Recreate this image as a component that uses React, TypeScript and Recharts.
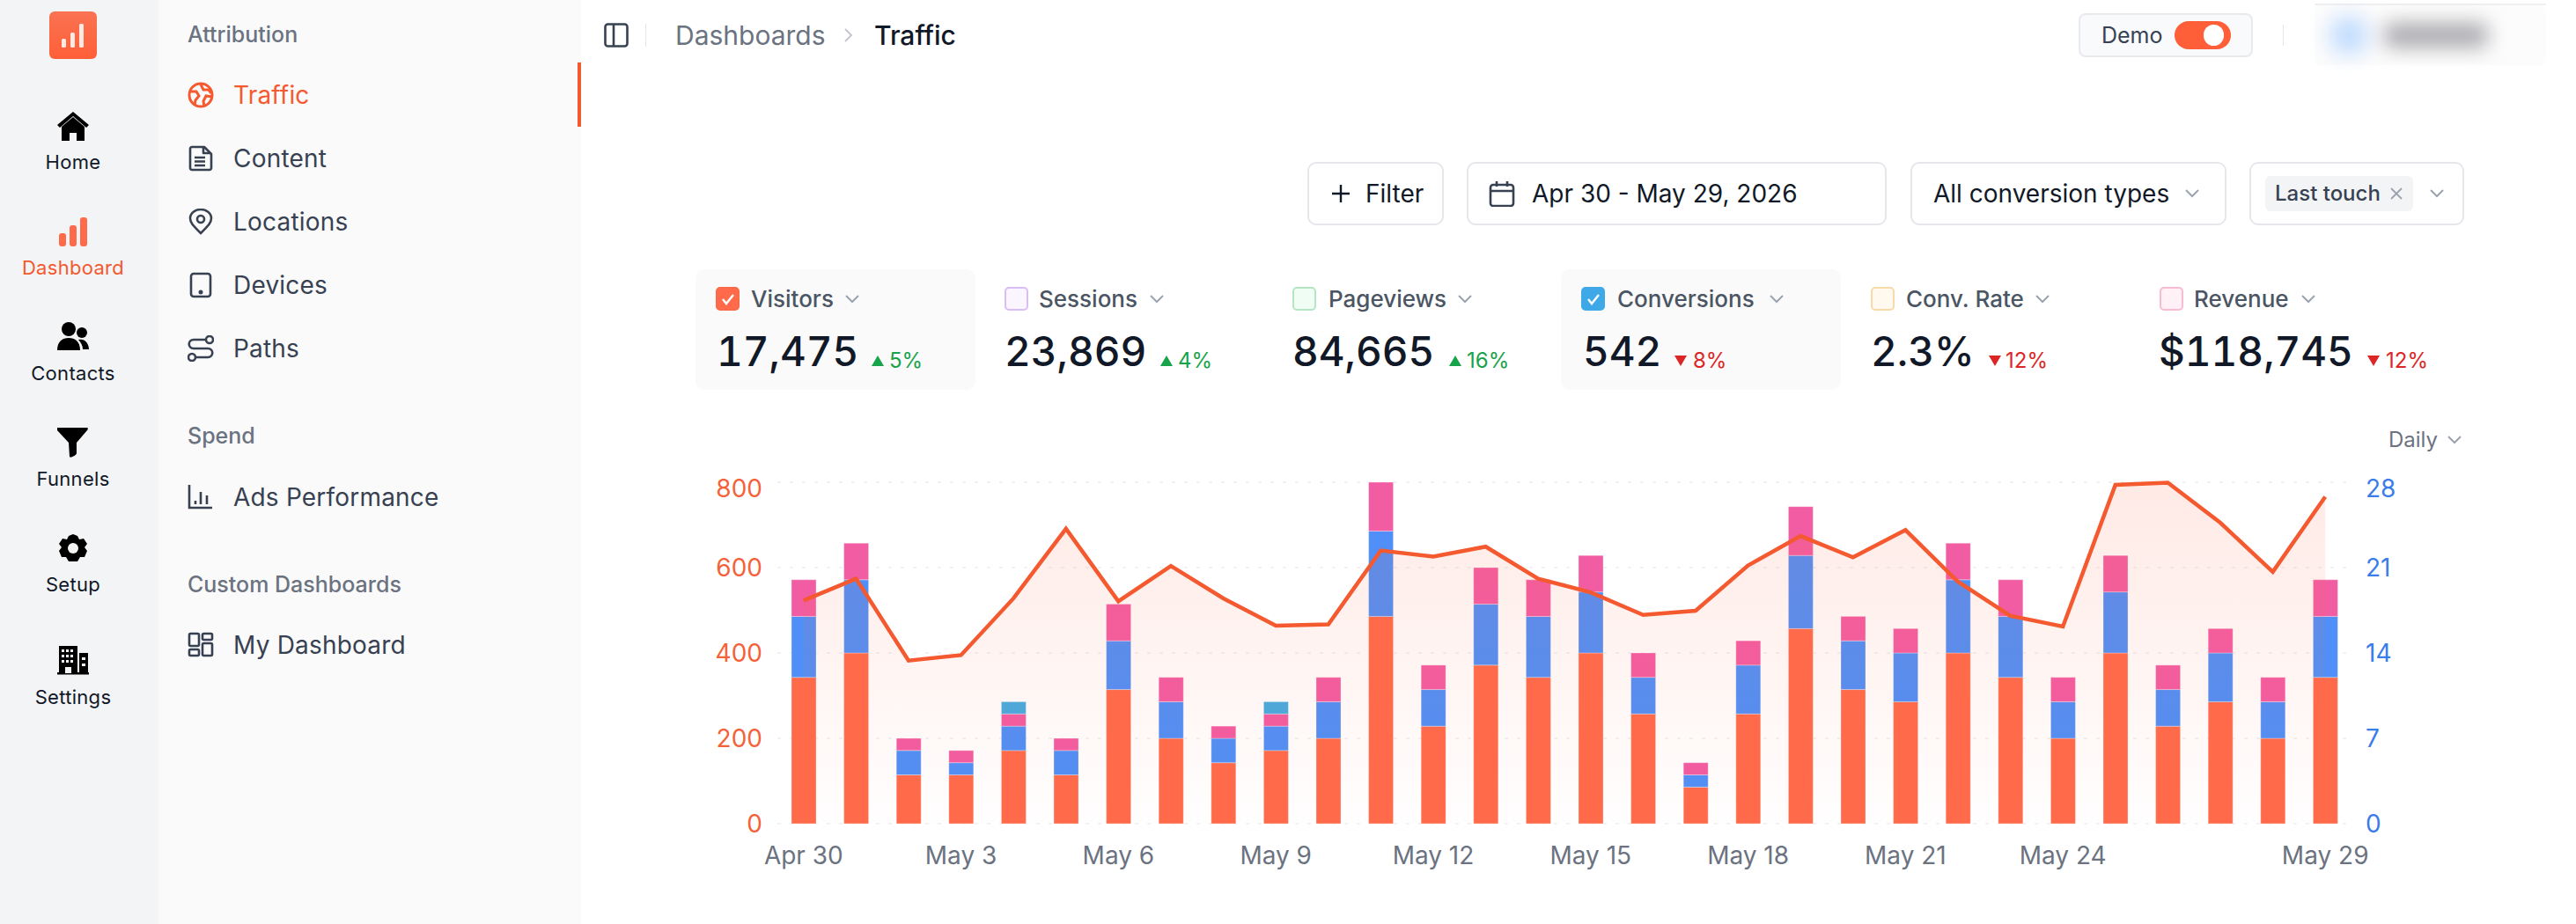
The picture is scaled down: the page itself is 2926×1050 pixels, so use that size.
import { Area, Bar, CartesianGrid, ComposedChart, XAxis, YAxis } from 'recharts'

const categories = [
  'Apr 30', 'May 1', 'May 2', 'May 3', 'May 4', 'May 5', 'May 6', 'May 7', 'May 8', 'May 9',
  'May 10', 'May 11', 'May 12', 'May 13', 'May 14', 'May 15', 'May 16', 'May 17', 'May 18', 'May 19',
  'May 20', 'May 21', 'May 22', 'May 23', 'May 24', 'May 25', 'May 26', 'May 27', 'May 28', 'May 29',
]
const xTickLabels = ['Apr 30', 'May 3', 'May 6', 'May 9', 'May 12', 'May 15', 'May 18', 'May 21', 'May 24', 'May 29']
const visitorTicks = [0, 200, 400, 600, 800]
const conversionTicks = [0, 7, 14, 21, 28]

const visitors = [
  523, 574, 382, 395, 528, 691, 521, 604, 528, 464, 467, 640, 626, 649, 574,
  542, 489, 499, 605, 674, 624, 688, 567, 487, 462, 794, 799, 705, 590, 766,
]
const conversionsOrange = [12, 14, 4, 4, 6, 4, 11, 7, 5, 6, 7, 17, 8, 13, 12, 14, 9, 3, 9, 16, 11, 10, 14, 12, 7, 14, 8, 10, 7, 12]
const conversionsBlue = [5, 6, 2, 1, 2, 2, 4, 3, 2, 2, 3, 7, 3, 5, 5, 5, 3, 1, 4, 6, 4, 4, 6, 5, 3, 5, 3, 4, 3, 5]
const conversionsPink = [3, 3, 1, 1, 1, 1, 3, 2, 1, 1, 2, 4, 2, 3, 3, 3, 2, 1, 2, 4, 2, 2, 3, 3, 2, 3, 2, 2, 2, 3]
const conversionsSky = [0, 0, 0, 0, 1, 0, 0, 0, 0, 1, 0, 0, 0, 0, 0, 0, 0, 0, 0, 0, 0, 0, 0, 0, 0, 0, 0, 0, 0, 0]

const chartData = categories.map((day, i) => ({
  day,
  visitors: visitors[i],
  orange: conversionsOrange[i],
  blue: conversionsBlue[i],
  pink: conversionsPink[i],
  sky: conversionsSky[i],
}))

const kpiNames = ['Visitors', 'Sessions', 'Pageviews', 'Conversions', 'Conv. Rate', 'Revenue']
const kpiValues = ['17,475', '23,869', '84,665', '542', '2.3%', '$118,745']
const kpiDeltas = ['5%', '4%', '16%', '8%', '12%', '12%']
const kpiUp = [true, true, true, false, false, false]
const kpiChecked = [true, false, false, true, false, false]
const kpiBoxFill = ['#FF6B4A', '#FAF5FF', '#F0FDF4', '#3FA9E8', '#FFF9EF', '#FFF1F6']
const kpiBoxBorder = ['#F9694A', '#D9BDF5', '#B5E6C3', '#3FA9E8', '#F8D9A8', '#F8BBD3']
const kpiBoxX = [813, 1141, 1468, 1796, 2125, 2453]
const kpiLabelX = [853, 1180, 1509, 1837, 2165, 2492]
const kpiCaretX = [968, 1314, 1664, 2018, 2320, 2622]
const kpiValueX = [814, 1141, 1468, 1798, 2125, 2452]
const kpiArrowX = [997, 1325, 1653, 1909, 2266, 2696]
const kpiDeltaX = [1010, 1338, 1666, 1923, 2278, 2710]

const railLabels = ['Home', 'Dashboard', 'Contacts', 'Funnels', 'Setup', 'Settings']
const railLabelY = [184, 304, 424, 544, 664, 792]
const railIconY = [145, 264, 384, 503, 624, 751]

const navLabels = ['Traffic', 'Content', 'Locations', 'Devices', 'Paths', 'Ads Performance', 'My Dashboard']
const navY = [108, 180, 252, 324, 396, 565, 733]
const navHeadings = ['Attribution', 'Spend', 'Custom Dashboards']
const navHeadingY = [39, 495, 664]

const ORANGE = '#FF6B4A'
const LINE = '#F4592F'
const FONT = 'Inter, sans-serif'
const SEGMENT_EDGE = 'rgba(255,255,255,0.3)'

function Label({ x, y, size, color, weight = 400, spacing = 0, tabular = false, children }: any) {
  return (
    <span
      style={{
        position: 'absolute',
        left: x,
        top: y,
        transform: 'translateY(-50%)',
        fontSize: size,
        color,
        fontWeight: weight,
        letterSpacing: spacing,
        fontVariantNumeric: tabular ? 'tabular-nums' : 'normal',
        whiteSpace: 'nowrap',
        lineHeight: 1,
      }}
    >
      {children}
    </span>
  )
}

function Box({ x, y, w, h, style }: any) {
  return <div style={{ position: 'absolute', left: x, top: y, width: w, height: h, boxSizing: 'border-box', ...style }} />
}

function Svg({ cx, cy, w, h, children }: any) {
  return (
    <svg
      width={w}
      height={h}
      viewBox={`0 0 ${w} ${h}`}
      style={{ position: 'absolute', left: cx - w / 2, top: cy - h / 2 }}
    >
      {children}
    </svg>
  )
}

function Caret({ cx, cy, color = '#9CA3AF' }: any) {
  return (
    <Svg cx={cx} cy={cy} w={18} h={12}>
      <polyline points="2,2 9,9 16,2" fill="none" stroke={color} strokeWidth={2} />
    </Svg>
  )
}

const RAIL_ICONS = [
  <g key="home" fill="#000">
    <path d="M18 0 L36 15 L33 18 L18 5 L3 18 L0 15 Z" />
    <path d="M5 17 L18 6 L31 17 L31 33 L22 33 L22 24 L14 24 L14 33 L5 33 Z" />
  </g>,
  <g key="dash" fill={ORANGE}>
    <rect x="2" y="19" width="8" height="15" rx="3" />
    <rect x="14" y="10" width="8" height="24" rx="3" />
    <rect x="26" y="1" width="8" height="33" rx="3" />
  </g>,
  <g key="contacts" fill="#000">
    <circle cx="13" cy="8" r="8" />
    <path d="M0 32 C0 22 6 18 13 18 C20 18 26 22 26 32 Z" />
    <circle cx="28" cy="12" r="6" />
    <path d="M24 20 C32 18 36 25 36 31 L29 31 C29 27 27 23 24 20 Z" />
  </g>,
  <g key="funnel" fill="#000">
    <path d="M0 1 L34 1 C35 1 35 3 34 4 L22 18 L22 30 C22 32 15 36 14 34 L13 18 L0 4 C-1 3 -1 1 0 1 Z" />
  </g>,
  <g key="gear">
    <path d="M18 1 L23 3 L25 7 L30 6 L34 12 L31 16 L34 20 L31 27 L26 27 L23 32 L13 32 L10 27 L5 27 L2 20 L5 16 L2 12 L6 6 L11 7 L13 3 Z" fill="#000" />
    <circle cx="18" cy="17" r="6" fill="#F3F4F6" />
  </g>,
  <g key="building" fill="#000">
    <rect x="2" y="1" width="21" height="32" />
    <rect x="25" y="9" width="10" height="24" />
    <rect x="0" y="31" width="36" height="2.5" />
    {[5, 10, 15].map((rx) => [5, 11, 17].map((ry) => <rect key={`${rx}-${ry}`} x={rx} y={ry} width="3" height="3" fill="#F3F4F6" />))}
    <rect x="9" y="25" width="7" height="7" fill="#F3F4F6" />
    <rect x="28" y="14" width="4" height="3" fill="#F3F4F6" />
    <rect x="28" y="21" width="4" height="3" fill="#F3F4F6" />
  </g>,
]

const NAV_ICONS = [
  <g key="globe" fill="none" stroke={LINE} strokeWidth="3">
    <circle cx="15" cy="15" r="13" />
    <path d="M3 11 L10 11 L13 16 L9 21 L8 27 M15 3 L18 9 L24 9 L27 13 M28 17 L21 16 L18 22 L19 28" />
  </g>,
  <g key="doc" fill="none" stroke="#374151" strokeWidth="2.6" strokeLinejoin="round">
    <path d="M4 2 L18 2 L26 10 L26 26 C26 27 25 28 24 28 L4 28 C3 28 2 27 2 26 L2 4 C2 3 3 2 4 2 Z" transform="translate(1 0)" />
    <path d="M8 14 L20 14 M8 18.5 L20 18.5 M8 23 L20 23 M18 2 L18 9 L26 9" />
  </g>,
  <g key="pin" fill="none" stroke="#374151" strokeWidth="2.6">
    <path d="M15 28 C6 19 3 16 3 11 C3 5 9 1 15 1 C21 1 27 5 27 11 C27 16 24 19 15 28 Z" />
    <circle cx="15" cy="12" r="4" />
  </g>,
  <g key="tablet" fill="none" stroke="#374151" strokeWidth="2.6">
    <rect x="4" y="2" width="22" height="26" rx="3" />
    <circle cx="15" cy="23" r="1.2" fill="#374151" />
  </g>,
  <g key="paths" fill="none" stroke="#374151" strokeWidth="2.6">
    <circle cx="25" cy="5" r="4" />
    <circle cx="5" cy="25" r="4" />
    <path d="M21 5 L7 5 C0 5 0 15 7 15 L23 15 C30 15 30 25 23 25 L9 25" />
  </g>,
  <g key="ads" fill="none" stroke="#374151" strokeWidth="2.6">
    <path d="M2 1 L2 27 L28 27 M9 19 L9 23 M15 9 L15 23 M22 13 L22 23" />
  </g>,
  <g key="grid" fill="none" stroke="#374151" strokeWidth="2.6">
    <rect x="2" y="2" width="11" height="14" rx="1.5" />
    <rect x="17" y="2" width="11" height="7" rx="1.5" />
    <rect x="2" y="20" width="11" height="7" rx="1.5" />
    <rect x="17" y="13" width="11" height="14" rx="1.5" />
  </g>,
]

function ValueTick({ x, y, payload, index, color, anchor, shift, count }: any) {
  // the top label sits a little under its grid line
  const nudge = index === count - 1 ? 7 : 0
  return (
    <text x={x + shift} y={y + nudge} dy=".36em" textAnchor={anchor} fill={color} fontSize={28} fontFamily={FONT}>
      {payload.value}
    </text>
  )
}

function TrafficChart() {
  return (
    <div style={{ position: 'absolute', left: 780, top: 520 }}>
      <ComposedChart
        width={2000}
        height={500}
        data={chartData}
        margin={{ top: 28, right: 49, left: 43, bottom: 34 }}
        barCategoryGap={0}
      >
        <defs>
          <linearGradient id="visitorsFill" x1="0" y1="0" x2="0" y2="1">
            <stop offset="0%" stopColor={ORANGE} stopOpacity={0.24} />
            <stop offset="100%" stopColor={ORANGE} stopOpacity={0.01} />
          </linearGradient>
        </defs>
        <CartesianGrid yAxisId="left" vertical={false} stroke="#F1F2F4" strokeWidth={2} strokeDasharray="4 10" />
        <XAxis
          dataKey="day"
          ticks={xTickLabels}
          interval={0}
          axisLine={false}
          tickLine={false}
          height={50}
          tickMargin={20}
          tick={{ fill: '#6B7280', fontSize: 28, fontFamily: FONT }}
        />
        <YAxis
          yAxisId="left"
          width={60}
          domain={[0, 800]}
          ticks={visitorTicks}
          axisLine={false}
          tickLine={false}
          tick={<ValueTick color="#F4623A" anchor="end" shift={-9} count={visitorTicks.length} />}
        />
        <YAxis
          yAxisId="right"
          orientation="right"
          width={60}
          domain={[0, 28]}
          ticks={conversionTicks}
          axisLine={false}
          tickLine={false}
          tick={<ValueTick color="#3B7DE8" anchor="start" shift={8} count={conversionTicks.length} />}
        />
        <Bar yAxisId="right" dataKey="orange" stackId="conversions" fill={ORANGE} stroke={SEGMENT_EDGE} barSize={28} isAnimationActive={false} />
        <Bar yAxisId="right" dataKey="blue" stackId="conversions" fill="#4F8FF7" stroke={SEGMENT_EDGE} barSize={28} isAnimationActive={false} />
        <Bar yAxisId="right" dataKey="pink" stackId="conversions" fill="#F25CA2" stroke={SEGMENT_EDGE} barSize={28} isAnimationActive={false} />
        <Bar yAxisId="right" dataKey="sky" stackId="conversions" fill="#45ABE0" stroke={SEGMENT_EDGE} barSize={28} isAnimationActive={false} />
        <Area
          yAxisId="left"
          type="linear"
          dataKey="visitors"
          stroke={LINE}
          strokeWidth={4.5}
          fill="url(#visitorsFill)"
          dot={false}
          activeDot={false}
          zIndex={350}
          isAnimationActive={false}
        />
      </ComposedChart>
    </div>
  )
}

export default function App() {
  return (
    <div style={{ position: 'absolute', left: 0, top: 0, width: 2926, height: 1050, overflow: 'hidden', background: '#fff', fontFamily: FONT }}>
      <Box x={0} y={0} w={180} h={1050} style={{ background: '#F3F4F6' }} />
      <Box x={180} y={0} w={480} h={1050} style={{ background: '#FAFAFB' }} />
      <Box x={656} y={71} w={4} h={73} style={{ background: LINE }} />

      <div style={{ position: 'absolute', left: 56, top: 13, width: 54, height: 54, borderRadius: 6, background: 'linear-gradient(180deg,#F97352,#FF5F38)' }} />
      <Svg cx={83} cy={40} w={28} h={30}>
        <rect x="1" y="19" width="5" height="10" rx="1.5" fill="#FFE9E2" />
        <rect x="11" y="12" width="5" height="17" rx="1.5" fill="#FFE9E2" />
        <rect x="21" y="2" width="5" height="27" rx="1.5" fill="#FFE9E2" />
      </Svg>

      {railLabels.map((name, i) => (
        <div key={name}>
          <Svg cx={83} cy={railIconY[i]} w={36} h={36}>{RAIL_ICONS[i]}</Svg>
          <div
            style={{
              position: 'absolute',
              left: 0,
              width: 166,
              top: railLabelY[i] - 12,
              textAlign: 'center',
              fontSize: 22,
              lineHeight: '24px',
              letterSpacing: 0.3,
              fontWeight: 400,
              color: i === 1 ? LINE : '#111827',
            }}
          >
            {name}
          </div>
        </div>
      ))}

      {navHeadings.map((name, i) => (
        <Label key={name} x={213} y={navHeadingY[i]} size={25} color="#6B7280" weight={500}>{name}</Label>
      ))}
      {navLabels.map((name, i) => (
        <div key={name}>
          <Svg cx={228} cy={navY[i]} w={30} h={30}>{NAV_ICONS[i]}</Svg>
          <Label x={265} y={navY[i]} size={28} color={i === 0 ? LINE : '#374151'} weight={400} spacing={0.2}>{name}</Label>
        </div>
      ))}

      <Svg cx={700} cy={40} w={28} h={28}>
        <rect x="1.5" y="1.5" width="25" height="25" rx="3" fill="none" stroke="#374151" strokeWidth="2.6" />
        <path d="M11 2 L11 26" stroke="#374151" strokeWidth="2.6" />
      </Svg>
      <Box x={733} y={27} w={1} h={26} style={{ background: '#E5E7EB' }} />
      <Label x={767} y={40} size={30} color="#6B7280">Dashboards</Label>
      <Svg cx={964} cy={40} w={12} h={20}>
        <polyline points="2,3 9,10 2,17" fill="none" stroke="#C4C8CE" strokeWidth="2" />
      </Svg>
      <Label x={993} y={40} size={30} color="#111827" weight={500}>Traffic</Label>

      <Box x={2361} y={15} w={198} h={50} style={{ background: '#F9FAFB', border: '2px solid #E8EAED', borderRadius: 8 }} />
      <Label x={2387} y={40} size={25} color="#374151">Demo</Label>
      <Box x={2470} y={24} w={64} h={32} style={{ background: '#FF5F38', borderRadius: 16 }} />
      <Box x={2503} y={28} w={23} h={24} style={{ background: '#fff', borderRadius: 12 }} />
      <Box x={2593} y={28} w={1} h={24} style={{ background: '#E5E7EB' }} />
      <Box x={2629} y={6} w={263} h={68} style={{ background: '#FCFCFC', borderRadius: 6 }} />
      <Box x={2629} y={4} w={263} h={2} style={{ background: '#EFEFEF' }} />
      <Box x={2646} y={18} w={44} h={44} style={{ background: '#BFDBFE', borderRadius: 22, filter: 'blur(12px)' }} />
      <Box x={2708} y={26} w={118} h={28} style={{ background: '#ABABB0', borderRadius: 8, filter: 'blur(11px)' }} />

      <Box x={1485} y={184} w={155} h={72} style={{ border: '2px solid #E5E7EB', borderRadius: 10 }} />
      <Svg cx={1523} cy={220} w={24} h={24}>
        <path d="M12 2 L12 22 M2 12 L22 12" stroke="#111827" strokeWidth="2.4" />
      </Svg>
      <Label x={1551} y={220} size={28} color="#111827">Filter</Label>

      <Box x={1666} y={184} w={477} h={72} style={{ border: '2px solid #E5E7EB', borderRadius: 10 }} />
      <Svg cx={1706} cy={220} w={30} h={30}>
        <rect x="2" y="5" width="26" height="24" rx="3" fill="none" stroke="#374151" strokeWidth="2.6" />
        <path d="M2 12 L28 12 M9 1 L9 7 M21 1 L21 7" stroke="#374151" strokeWidth="2.6" />
      </Svg>
      <Label x={1740} y={220} size={28} color="#111827">Apr 30 - May 29, 2026</Label>

      <Box x={2170} y={184} w={359} h={72} style={{ border: '2px solid #E5E7EB', borderRadius: 10 }} />
      <Label x={2196} y={220} size={28} color="#111827">All conversion types</Label>
      <Caret cx={2490} cy={220} />

      <Box x={2555} y={184} w={244} h={72} style={{ border: '2px solid #E5E7EB', borderRadius: 10 }} />
      <Box x={2573} y={200} w={168} h={40} style={{ background: '#F3F4F6', borderRadius: 6 }} />
      <Label x={2584} y={220} size={24} color="#374151" weight={500}>Last touch</Label>
      <Svg cx={2722} cy={220} w={16} h={16}>
        <path d="M2 2 L14 14 M14 2 L2 14" stroke="#9CA3AF" strokeWidth="1.8" />
      </Svg>
      <Caret cx={2768} cy={220} />

      <Box x={790} y={306} w={318} h={137} style={{ background: '#FAFAFA', borderRadius: 10 }} />
      <Box x={1773} y={306} w={318} h={137} style={{ background: '#FAFAFA', borderRadius: 10 }} />
      {kpiNames.map((name, i) => (
        <div key={name}>
          <Box
            x={kpiBoxX[i]}
            y={326}
            w={27}
            h={27}
            style={{ background: kpiBoxFill[i], border: `2px solid ${kpiBoxBorder[i]}`, borderRadius: 5 }}
          />
          {kpiChecked[i] && (
            <Svg cx={kpiBoxX[i] + 13.5} cy={339.5} w={18} h={16}>
              <polyline points="3,8 7,13 15,3" fill="none" stroke="#fff" strokeWidth="2.4" />
            </Svg>
          )}
          <Label x={kpiLabelX[i]} y={340} size={26} color="#4B5563" weight={500}>{name}</Label>
          <Caret cx={kpiCaretX[i]} cy={340} />
          <Label x={kpiValueX[i]} y={399} size={46} color="#111827" weight={500} tabular>{kpiValues[i]}</Label>
          <Svg cx={kpiArrowX[i]} cy={410} w={16} h={14}>
            <polygon points={kpiUp[i] ? '8,1 15,13 1,13' : '1,1 15,1 8,13'} fill={kpiUp[i] ? '#16A34A' : '#DC2626'} />
          </Svg>
          <Label x={kpiDeltaX[i]} y={410} size={24} color={kpiUp[i] ? '#16A34A' : '#DC2626'}>{kpiDeltas[i]}</Label>
        </div>
      ))}

      <Label x={2713} y={500} size={24} color="#6B7280">Daily</Label>
      <Caret cx={2788} cy={500} />

      <TrafficChart />
    </div>
  )
}
